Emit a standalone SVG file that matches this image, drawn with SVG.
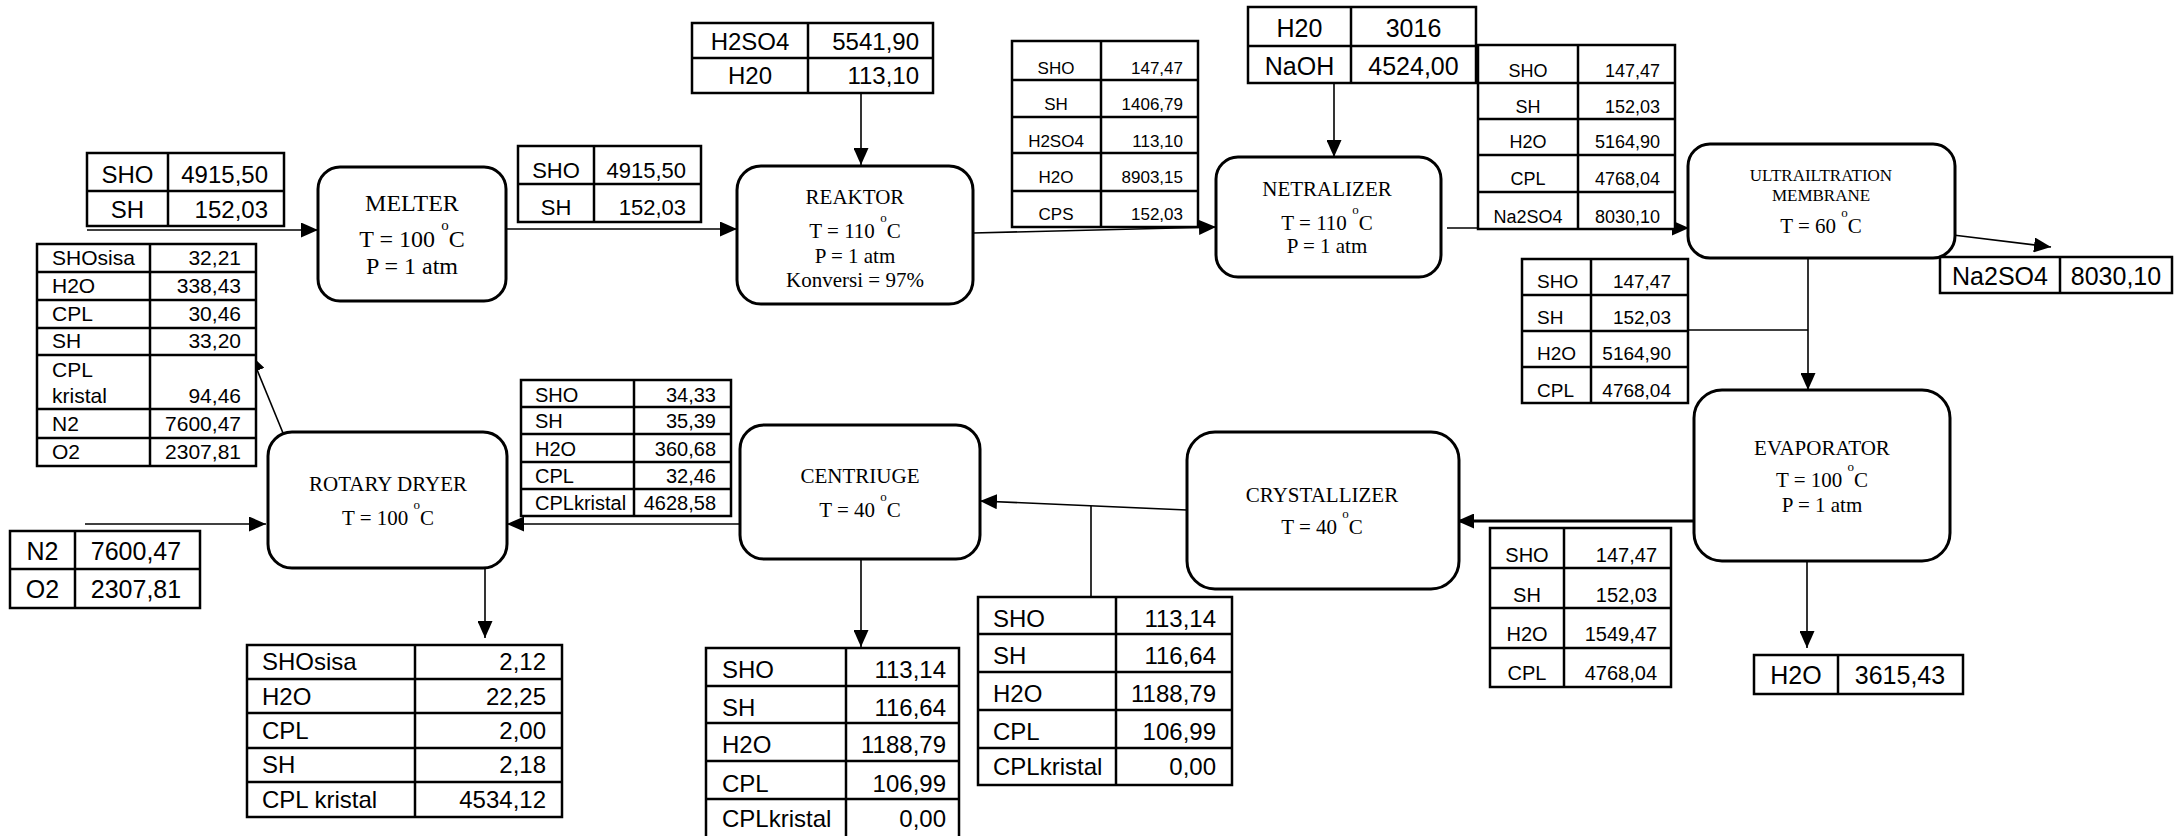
<svg xmlns="http://www.w3.org/2000/svg" width="2174" height="836" viewBox="0 0 2174 836">
<style>
.bg{fill:#ffffff}
.box{fill:#ffffff;stroke:#000;stroke-width:3}
.tb{fill:#ffffff;stroke:#000;stroke-width:2.5}
.tl{stroke:#000;stroke-width:2.5}
.ln{fill:none;stroke:#000;stroke-width:1.6}
.lnk{fill:none;stroke:#000;stroke-width:3}
.arr{marker-end:url(#ah)}
.t{font-family:"Liberation Serif","Times New Roman",serif;fill:#000;text-anchor:middle}
.a{font-family:"Liberation Sans",Arial,sans-serif;fill:#000}
.c{text-anchor:middle}
.r{text-anchor:end}
.l{text-anchor:start}
</style>
<defs>
<marker id="ah" markerWidth="17" markerHeight="15" refX="17" refY="7.5" orient="auto" markerUnits="userSpaceOnUse"><path d="M0,0 L17,7.5 L0,15 z" fill="#000"/></marker>
</defs>
<rect class="bg" x="0" y="0" width="2174" height="836"/>

<g id="connectors">
<line class="ln arr" x1="87" y1="230" x2="318" y2="230"/>
<line class="ln arr" x1="506" y1="229" x2="737" y2="229"/>
<line class="ln arr" x1="861" y1="93" x2="861" y2="165"/>
<line class="ln arr" x1="973" y1="233" x2="1216" y2="227"/>
<line class="ln arr" x1="1334" y1="83" x2="1334" y2="157"/>
<line class="ln arr" x1="1447" y1="228" x2="1689" y2="228"/>
<line class="ln arr" x1="1953" y1="235" x2="2051" y2="247"/>
<line class="ln arr" x1="1808" y1="258" x2="1808" y2="390"/>
<line class="ln" x1="1688" y1="330" x2="1808" y2="330"/>
<line class="lnk arr" x1="1694" y1="521" x2="1457" y2="521"/>
<line class="ln arr" x1="1807" y1="561" x2="1807" y2="648"/>
<line class="ln arr" x1="1187" y1="510" x2="980" y2="501"/>
<line class="ln" x1="1091" y1="506" x2="1091" y2="597"/>
<line class="ln arr" x1="861" y1="559" x2="861" y2="647"/>
<line class="ln arr" x1="740" y1="524" x2="507" y2="524"/>
<line class="ln arr" x1="85" y1="524" x2="266" y2="524"/>
<line class="ln arr" x1="485" y1="568" x2="485" y2="638"/>
<line class="ln arr" x1="283" y1="433" x2="251" y2="355"/>
</g>

<g id="melter">
<rect class="box" x="318" y="167" width="188" height="134" rx="22"/>
<text class="t" x="412" y="211" font-size="24">MELTER</text>
<text class="t" x="412" y="247" font-size="24">T = 100 <tspan font-size="15" dy="-17">o</tspan><tspan dy="17">C</tspan></text>
<text class="t" x="412" y="274" font-size="24">P = 1 atm</text>
</g>

<g id="reaktor">
<rect class="box" x="737" y="166" width="236" height="138" rx="24"/>
<text class="t" x="855" y="204" font-size="21">REAKTOR</text>
<text class="t" x="855" y="238" font-size="21">T = 110 <tspan font-size="13" dy="-16">o</tspan><tspan dy="16">C</tspan></text>
<text class="t" x="855" y="263" font-size="21">P = 1 atm</text>
<text class="t" x="855" y="287" font-size="21">Konversi = 97%</text>
</g>

<g id="netralizer">
<rect class="box" x="1216" y="157" width="225" height="120" rx="22"/>
<text class="t" x="1327" y="196" font-size="21">NETRALIZER</text>
<text class="t" x="1327" y="230" font-size="21">T = 110 <tspan font-size="13" dy="-16">o</tspan><tspan dy="16">C</tspan></text>
<text class="t" x="1327" y="253" font-size="21">P = 1 atm</text>
</g>

<g id="ultrafiltration">
<rect class="box" x="1688" y="144" width="267" height="114" rx="22"/>
<text class="t" x="1821" y="181" font-size="17">ULTRAILTRATION</text>
<text class="t" x="1821" y="201" font-size="17">MEMBRANE</text>
<text class="t" x="1821" y="233" font-size="21">T = 60 <tspan font-size="13" dy="-16">o</tspan><tspan dy="16">C</tspan></text>
</g>

<g id="evaporator">
<rect class="box" x="1694" y="390" width="256" height="171" rx="28"/>
<text class="t" x="1822" y="455" font-size="21">EVAPORATOR</text>
<text class="t" x="1822" y="487" font-size="21">T = 100 <tspan font-size="13" dy="-16">o</tspan><tspan dy="16">C</tspan></text>
<text class="t" x="1822" y="512" font-size="21">P = 1 atm</text>
</g>

<g id="crystallizer">
<rect class="box" x="1187" y="432" width="272" height="157" rx="28"/>
<text class="t" x="1322" y="502" font-size="21">CRYSTALLIZER</text>
<text class="t" x="1322" y="534" font-size="21">T = 40 <tspan font-size="13" dy="-16">o</tspan><tspan dy="16">C</tspan></text>
</g>

<g id="centrifuge">
<rect class="box" x="740" y="425" width="240" height="134" rx="24"/>
<text class="t" x="860" y="483" font-size="21">CENTRIUGE</text>
<text class="t" x="860" y="517" font-size="21">T = 40 <tspan font-size="13" dy="-16">o</tspan><tspan dy="16">C</tspan></text>
</g>

<g id="rotary-dryer">
<rect class="box" x="268" y="432" width="239" height="136" rx="24"/>
<text class="t" x="388" y="491" font-size="21">ROTARY DRYER</text>
<text class="t" x="388" y="525" font-size="21">T = 100 <tspan font-size="13" dy="-16">o</tspan><tspan dy="16">C</tspan></text>
</g>

<g id="stream-melter-feed">
<rect class="tb" x="87" y="153" width="197" height="73"/>
<line class="tl" x1="168" y1="153" x2="168" y2="226"/>
<line class="tl" x1="87" y1="191" x2="284" y2="191"/>
<text class="a c" x="127.5" y="183" font-size="24">SHO</text>
<text class="a r" x="268" y="183" font-size="24">4915,50</text>
<text class="a c" x="127.5" y="218" font-size="24">SH</text>
<text class="a r" x="268" y="218" font-size="24">152,03</text>
</g>

<g id="stream-h2so4">
<rect class="tb" x="692" y="23" width="241" height="70"/>
<line class="tl" x1="808" y1="23" x2="808" y2="93"/>
<line class="tl" x1="692" y1="58" x2="933" y2="58"/>
<text class="a c" x="750" y="50" font-size="24">H2SO4</text>
<text class="a r" x="919" y="50" font-size="24">5541,90</text>
<text class="a c" x="750" y="84" font-size="24">H20</text>
<text class="a r" x="919" y="84" font-size="24">113,10</text>
</g>

<g id="stream-melter-reaktor">
<rect class="tb" x="518" y="146" width="183" height="76"/>
<line class="tl" x1="594" y1="146" x2="594" y2="222"/>
<line class="tl" x1="518" y1="184" x2="701" y2="184"/>
<text class="a c" x="556" y="178" font-size="22">SHO</text>
<text class="a r" x="686" y="178" font-size="22">4915,50</text>
<text class="a c" x="556" y="215" font-size="22">SH</text>
<text class="a r" x="686" y="215" font-size="22">152,03</text>
</g>

<g id="stream-reaktor-netralizer">
<rect class="tb" x="1012" y="41" width="186" height="186"/>
<line class="tl" x1="1101" y1="41" x2="1101" y2="227"/>
<line class="tl" x1="1012" y1="80" x2="1198" y2="80"/>
<line class="tl" x1="1012" y1="117" x2="1198" y2="117"/>
<line class="tl" x1="1012" y1="153" x2="1198" y2="153"/>
<line class="tl" x1="1012" y1="191" x2="1198" y2="191"/>
<g font-size="17">
<text class="a c" x="1056" y="74">SHO</text><text class="a r" x="1183" y="74">147,47</text>
<text class="a c" x="1056" y="110">SH</text><text class="a r" x="1183" y="110">1406,79</text>
<text class="a c" x="1056" y="147">H2SO4</text><text class="a r" x="1183" y="147">113,10</text>
<text class="a c" x="1056" y="183">H2O</text><text class="a r" x="1183" y="183">8903,15</text>
<text class="a c" x="1056" y="220">CPS</text><text class="a r" x="1183" y="220">152,03</text>
</g>
</g>

<g id="stream-naoh">
<rect class="tb" x="1248" y="7" width="228" height="76"/>
<line class="tl" x1="1351" y1="7" x2="1351" y2="83"/>
<line class="tl" x1="1248" y1="46" x2="1476" y2="46"/>
<text class="a c" x="1299.5" y="37" font-size="25">H20</text>
<text class="a c" x="1413.5" y="37" font-size="25">3016</text>
<text class="a c" x="1299.5" y="75" font-size="25">NaOH</text>
<text class="a c" x="1413.5" y="75" font-size="25">4524,00</text>
</g>

<g id="stream-netralizer-uf">
<rect class="tb" x="1478" y="45" width="197" height="184"/>
<line class="tl" x1="1578" y1="45" x2="1578" y2="229"/>
<line class="tl" x1="1478" y1="83" x2="1675" y2="83"/>
<line class="tl" x1="1478" y1="119" x2="1675" y2="119"/>
<line class="tl" x1="1478" y1="155" x2="1675" y2="155"/>
<line class="tl" x1="1478" y1="192" x2="1675" y2="192"/>
<g font-size="18">
<text class="a c" x="1528" y="77">SHO</text><text class="a r" x="1660" y="77">147,47</text>
<text class="a c" x="1528" y="113">SH</text><text class="a r" x="1660" y="113">152,03</text>
<text class="a c" x="1528" y="148">H2O</text><text class="a r" x="1660" y="148">5164,90</text>
<text class="a c" x="1528" y="185">CPL</text><text class="a r" x="1660" y="185">4768,04</text>
<text class="a c" x="1528" y="223">Na2SO4</text><text class="a r" x="1660" y="223">8030,10</text>
</g>
</g>

<g id="stream-na2so4-out">
<rect class="tb" x="1940" y="257" width="232" height="36"/>
<line class="tl" x1="2060" y1="257" x2="2060" y2="293"/>
<text class="a c" x="2000" y="285" font-size="25">Na2SO4</text>
<text class="a c" x="2116" y="285" font-size="25">8030,10</text>
</g>

<g id="stream-uf-evaporator">
<rect class="tb" x="1522" y="259" width="166" height="144"/>
<line class="tl" x1="1591" y1="259" x2="1591" y2="403"/>
<line class="tl" x1="1522" y1="295" x2="1688" y2="295"/>
<line class="tl" x1="1522" y1="331" x2="1688" y2="331"/>
<line class="tl" x1="1522" y1="367" x2="1688" y2="367"/>
<g font-size="19">
<text class="a l" x="1537" y="288">SHO</text><text class="a r" x="1671" y="288">147,47</text>
<text class="a l" x="1537" y="324">SH</text><text class="a r" x="1671" y="324">152,03</text>
<text class="a l" x="1537" y="360">H2O</text><text class="a r" x="1671" y="360">5164,90</text>
<text class="a l" x="1537" y="397">CPL</text><text class="a r" x="1671" y="397">4768,04</text>
</g>
</g>

<g id="stream-h2o-out">
<rect class="tb" x="1754" y="655" width="209" height="39"/>
<line class="tl" x1="1838" y1="655" x2="1838" y2="694"/>
<text class="a c" x="1796" y="684" font-size="25">H2O</text>
<text class="a c" x="1900" y="684" font-size="25">3615,43</text>
</g>

<g id="stream-evaporator-crystallizer">
<rect class="tb" x="1490" y="528" width="181" height="159"/>
<line class="tl" x1="1564" y1="528" x2="1564" y2="687"/>
<line class="tl" x1="1490" y1="568" x2="1671" y2="568"/>
<line class="tl" x1="1490" y1="608" x2="1671" y2="608"/>
<line class="tl" x1="1490" y1="648" x2="1671" y2="648"/>
<g font-size="20">
<text class="a c" x="1527" y="562">SHO</text><text class="a r" x="1657" y="562">147,47</text>
<text class="a c" x="1527" y="602">SH</text><text class="a r" x="1657" y="602">152,03</text>
<text class="a c" x="1527" y="641">H2O</text><text class="a r" x="1657" y="641">1549,47</text>
<text class="a c" x="1527" y="680">CPL</text><text class="a r" x="1657" y="680">4768,04</text>
</g>
</g>

<g id="stream-crystallizer-out">
<rect class="tb" x="978" y="597" width="254" height="188"/>
<line class="tl" x1="1116" y1="597" x2="1116" y2="785"/>
<line class="tl" x1="978" y1="634" x2="1232" y2="634"/>
<line class="tl" x1="978" y1="672" x2="1232" y2="672"/>
<line class="tl" x1="978" y1="710" x2="1232" y2="710"/>
<line class="tl" x1="978" y1="748" x2="1232" y2="748"/>
<g font-size="24">
<text class="a l" x="993" y="627">SHO</text><text class="a r" x="1216" y="627">113,14</text>
<text class="a l" x="993" y="664">SH</text><text class="a r" x="1216" y="664">116,64</text>
<text class="a l" x="993" y="702">H2O</text><text class="a r" x="1216" y="702">1188,79</text>
<text class="a l" x="993" y="740">CPL</text><text class="a r" x="1216" y="740">106,99</text>
<text class="a l" x="993" y="775">CPLkristal</text><text class="a r" x="1216" y="775">0,00</text>
</g>
</g>

<g id="stream-centrifuge-out">
<rect class="tb" x="706" y="648" width="253" height="192"/>
<line class="tl" x1="846" y1="648" x2="846" y2="840"/>
<line class="tl" x1="706" y1="686" x2="959" y2="686"/>
<line class="tl" x1="706" y1="723" x2="959" y2="723"/>
<line class="tl" x1="706" y1="761" x2="959" y2="761"/>
<line class="tl" x1="706" y1="799" x2="959" y2="799"/>
<g font-size="24">
<text class="a l" x="722" y="678">SHO</text><text class="a r" x="946" y="678">113,14</text>
<text class="a l" x="722" y="716">SH</text><text class="a r" x="946" y="716">116,64</text>
<text class="a l" x="722" y="753">H2O</text><text class="a r" x="946" y="753">1188,79</text>
<text class="a l" x="722" y="792">CPL</text><text class="a r" x="946" y="792">106,99</text>
<text class="a l" x="722" y="827">CPLkristal</text><text class="a r" x="946" y="827">0,00</text>
</g>
</g>

<g id="stream-centrifuge-rotary">
<rect class="tb" x="521" y="380" width="210" height="136"/>
<line class="tl" x1="634" y1="380" x2="634" y2="516"/>
<line class="tl" x1="521" y1="407" x2="731" y2="407"/>
<line class="tl" x1="521" y1="434" x2="731" y2="434"/>
<line class="tl" x1="521" y1="462" x2="731" y2="462"/>
<line class="tl" x1="521" y1="489" x2="731" y2="489"/>
<g font-size="20">
<text class="a l" x="535" y="402">SHO</text><text class="a r" x="716" y="402">34,33</text>
<text class="a l" x="535" y="428">SH</text><text class="a r" x="716" y="428">35,39</text>
<text class="a l" x="535" y="456">H2O</text><text class="a r" x="716" y="456">360,68</text>
<text class="a l" x="535" y="483">CPL</text><text class="a r" x="716" y="483">32,46</text>
<text class="a l" x="535" y="510">CPLkristal</text><text class="a r" x="716" y="510">4628,58</text>
</g>
</g>

<g id="stream-rotary-gas-out">
<rect class="tb" x="37" y="244" width="219" height="222"/>
<line class="tl" x1="150" y1="244" x2="150" y2="466"/>
<line class="tl" x1="37" y1="272" x2="256" y2="272"/>
<line class="tl" x1="37" y1="300" x2="256" y2="300"/>
<line class="tl" x1="37" y1="328" x2="256" y2="328"/>
<line class="tl" x1="37" y1="355" x2="256" y2="355"/>
<line class="tl" x1="37" y1="409" x2="256" y2="409"/>
<line class="tl" x1="37" y1="438" x2="256" y2="438"/>
<g font-size="21">
<text class="a l" x="52" y="265">SHOsisa</text><text class="a r" x="241" y="265">32,21</text>
<text class="a l" x="52" y="293">H2O</text><text class="a r" x="241" y="293">338,43</text>
<text class="a l" x="52" y="321">CPL</text><text class="a r" x="241" y="321">30,46</text>
<text class="a l" x="52" y="348">SH</text><text class="a r" x="241" y="348">33,20</text>
<text class="a l" x="52" y="377">CPL</text>
<text class="a l" x="52" y="403">kristal</text><text class="a r" x="241" y="403">94,46</text>
<text class="a l" x="52" y="431">N2</text><text class="a r" x="241" y="431">7600,47</text>
<text class="a l" x="52" y="459">O2</text><text class="a r" x="241" y="459">2307,81</text>
</g>
</g>

<g id="stream-air-in">
<rect class="tb" x="10" y="531" width="190" height="77"/>
<line class="tl" x1="75" y1="531" x2="75" y2="608"/>
<line class="tl" x1="10" y1="569" x2="200" y2="569"/>
<text class="a c" x="42.5" y="560" font-size="25">N2</text>
<text class="a c" x="136" y="560" font-size="25">7600,47</text>
<text class="a c" x="42.5" y="598" font-size="25">O2</text>
<text class="a c" x="136" y="598" font-size="25">2307,81</text>
</g>

<g id="stream-rotary-product">
<rect class="tb" x="247" y="645" width="315" height="172"/>
<line class="tl" x1="415" y1="645" x2="415" y2="817"/>
<line class="tl" x1="247" y1="679" x2="562" y2="679"/>
<line class="tl" x1="247" y1="713" x2="562" y2="713"/>
<line class="tl" x1="247" y1="748" x2="562" y2="748"/>
<line class="tl" x1="247" y1="782" x2="562" y2="782"/>
<g font-size="24">
<text class="a l" x="262" y="670">SHOsisa</text><text class="a r" x="546" y="670">2,12</text>
<text class="a l" x="262" y="705">H2O</text><text class="a r" x="546" y="705">22,25</text>
<text class="a l" x="262" y="739">CPL</text><text class="a r" x="546" y="739">2,00</text>
<text class="a l" x="262" y="773">SH</text><text class="a r" x="546" y="773">2,18</text>
<text class="a l" x="262" y="808">CPL kristal</text><text class="a r" x="546" y="808">4534,12</text>
</g>
</g>
</svg>
